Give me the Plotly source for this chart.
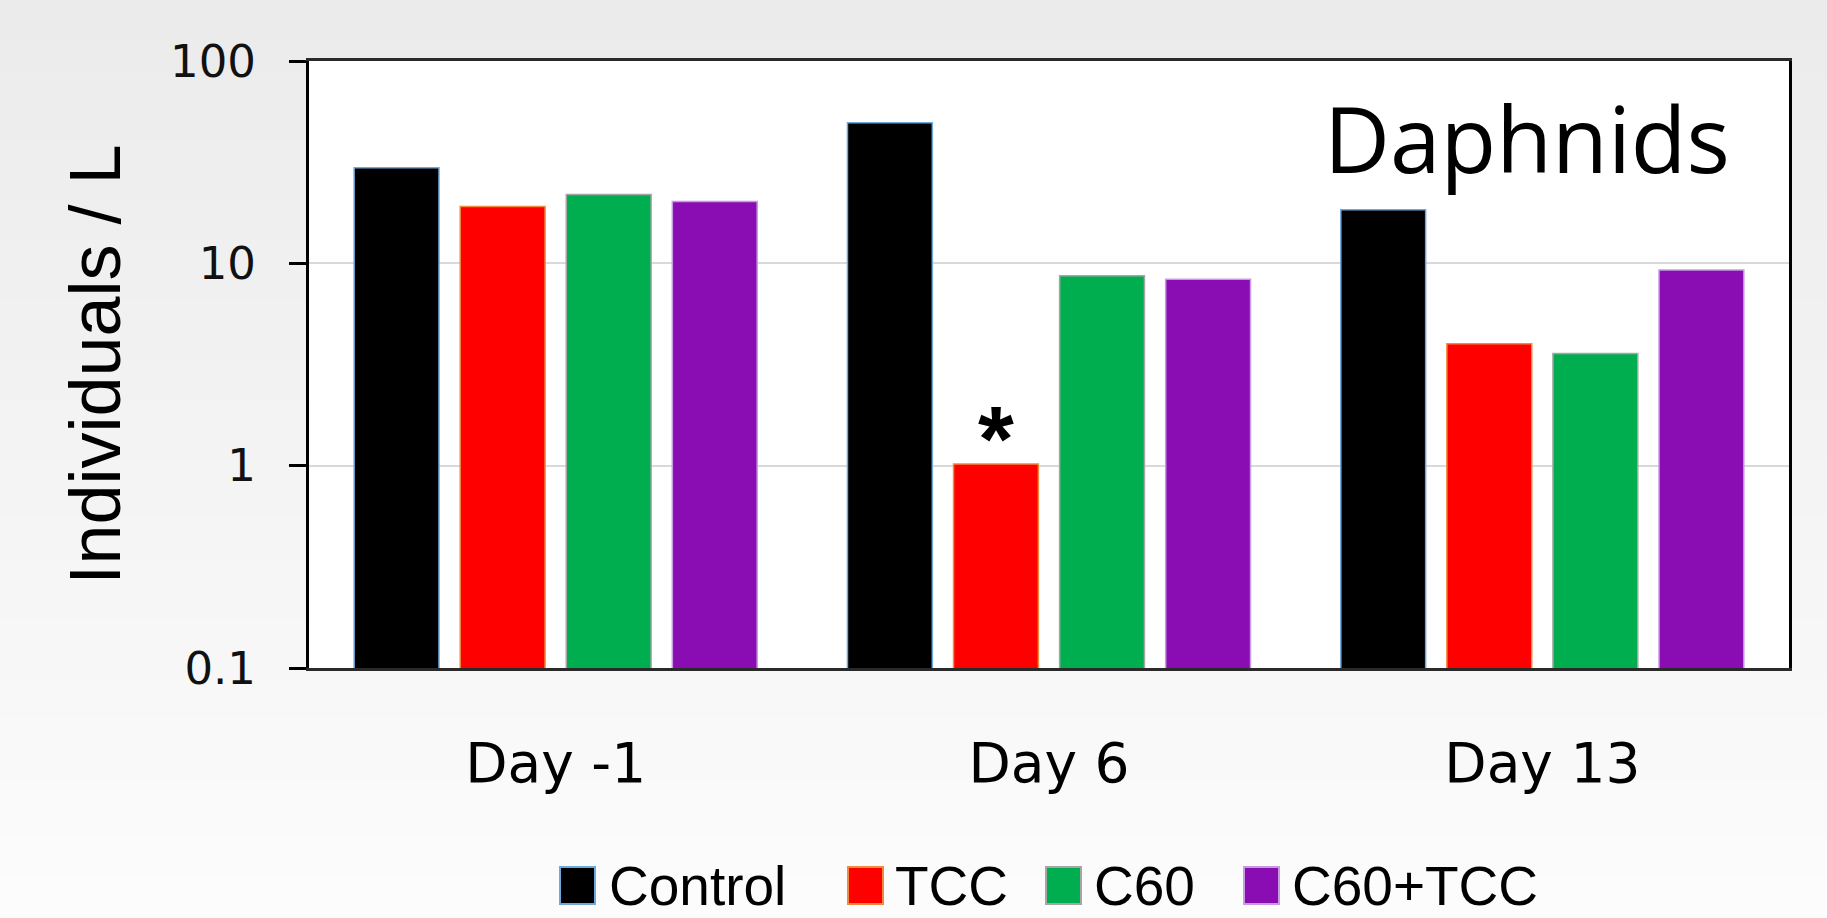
import math
import plotly.graph_objects as go

# ---------------- data ----------------
days = ["Day -1", "Day 6", "Day 13"]
series_names = ["Control", "TCC", "C60", "C60+TCC"]
control = [29.7, 49.5, 18.4]
tcc = [19.1, 1.02, 4.0]
c60 = [21.9, 8.67, 3.58]
c60_tcc = [20.2, 8.34, 9.27]
y_tickvals = [0.1, 1, 10, 100]
y_ticktext = ["0.1", "1", "10", "100"]
y_title = "Individuals / L"
panel_label = "Daphnids"
sig_series = "TCC"
sig_day = "Day 6"
sig_mark = "*"

# ---------------- style ----------------
fill_colors = ["#000000", "#ff0000", "#00ae4f", "#8a0db3"]
edge_colors = ["#6fa8dc", "#f08a3c", "#a6a6a6", "#c69be0"]
W, H = 1827, 918
ML, MR, MT, MB = 309, 38, 61, 250
PW, PH = W - ML - MR, H - MT - MB
BARGAP, BARGROUPGAP = 0.14, 0.2
AX_FONT = "Liberation Sans, Arial, sans-serif"
TICK_FONT = "DejaVu Sans, Verdana, sans-serif"


def px_x(px):
    return (px - ML) / PW


def px_y(py):
    return (H - MB - py) / PH


values = [control, tcc, c60, c60_tcc]
fig = go.Figure()
for name, vals, fc, ec in zip(series_names, values, fill_colors, edge_colors):
    fig.add_trace(go.Bar(
        name=name, x=days, y=vals,
        marker=dict(color=fc, line=dict(color=ec, width=1.5)),
        showlegend=False,
    ))

shapes = []
# background gradient
N = 46
for i in range(N):
    t = i / (N - 1)
    c = int(round(0xeb + (0xfc - 0xeb) * t))
    col = f"rgb({c},{c},{c})"
    y0 = i * H / N
    y1 = (i + 1) * H / N + 1
    shapes.append(dict(type="rect", xref="paper", yref="paper",
                       x0=px_x(-5), x1=px_x(W + 5), y0=px_y(y1), y1=px_y(y0),
                       line=dict(width=0), fillcolor=col, layer="below"))
# white plot area
shapes.append(dict(type="rect", xref="paper", yref="paper", x0=0, x1=1, y0=0, y1=1,
                   line=dict(width=0), fillcolor="white", layer="below"))

annotations = []
# manual legend
leg_sq_x = [560, 848, 1046, 1244]
leg_tx_x = [607, 893, 1092, 1290]
leg_y0, leg_y1 = 867, 904
for name, fc, ec, sx, tx in zip(series_names, fill_colors, edge_colors, leg_sq_x, leg_tx_x):
    shapes.append(dict(type="rect", xref="paper", yref="paper",
                       x0=px_x(sx), x1=px_x(sx + 35), y0=px_y(leg_y1), y1=px_y(leg_y0),
                       line=dict(color=ec, width=2), fillcolor=fc))
    annotations.append(dict(xref="paper", yref="paper", x=px_x(tx), y=px_y((leg_y0 + leg_y1) / 2),
                            text=name, showarrow=False, xanchor="left", yanchor="middle",
                            font=dict(family=AX_FONT, size=55, color="black")))

# panel label
annotations.append(dict(xref="paper", yref="paper", x=px_x(1527), y=px_y(138),
                        text=panel_label, showarrow=False, xanchor="center", yanchor="middle",
                        font=dict(family="Open Sans, Lato, sans-serif", size=91, color="black")))

# significance mark above the TCC bar on Day 6
slot = (1 - BARGAP) / len(series_names)
k = series_names.index(sig_series)
offset = (k - (len(series_names) - 1) / 2) * slot
d = days.index(sig_day)
annotations.append(dict(xref="x", yref="y", x=d + offset, y=math.log10(tcc[d]),
                        text="<b>" + sig_mark + "</b>", showarrow=False, xanchor="center",
                        yanchor="bottom", yshift=-28,
                        font=dict(family=AX_FONT, size=92, color="black")))

fig.update_layout(
    width=W, height=H,
    margin=dict(l=ML, r=MR, t=MT, b=MB, pad=0),
    paper_bgcolor="#f3f3f3", plot_bgcolor="white",
    barmode="group", bargap=BARGAP, bargroupgap=BARGROUPGAP,
    shapes=shapes, annotations=annotations,
    showlegend=False,
    xaxis=dict(type="category", showline=True, linecolor="#2a2a2a", linewidth=3, mirror=True,
               ticks="", showgrid=False, ticklabelstandoff=45,
               tickfont=dict(family=TICK_FONT, size=55, color="black")),
    yaxis=dict(type="log", range=[-1, 2], tickvals=y_tickvals, ticktext=y_ticktext,
               showline=True, linecolor="black", linewidth=3, mirror=True,
               ticks="outside", ticklen=17, tickwidth=3, tickcolor="black",
               showgrid=True, gridcolor="#d9d9d9", gridwidth=1.5,
               ticklabelstandoff=24,
               tickfont=dict(family=TICK_FONT, size=45, color="#111"),
               title=dict(text=y_title, standoff=26,
                          font=dict(family=AX_FONT, size=72, color="black"))),
)

fig.write_html("out.html", config={"displayModeBar": False},
               post_script="document.body.style.margin='0';document.body.style.overflow='hidden';")
